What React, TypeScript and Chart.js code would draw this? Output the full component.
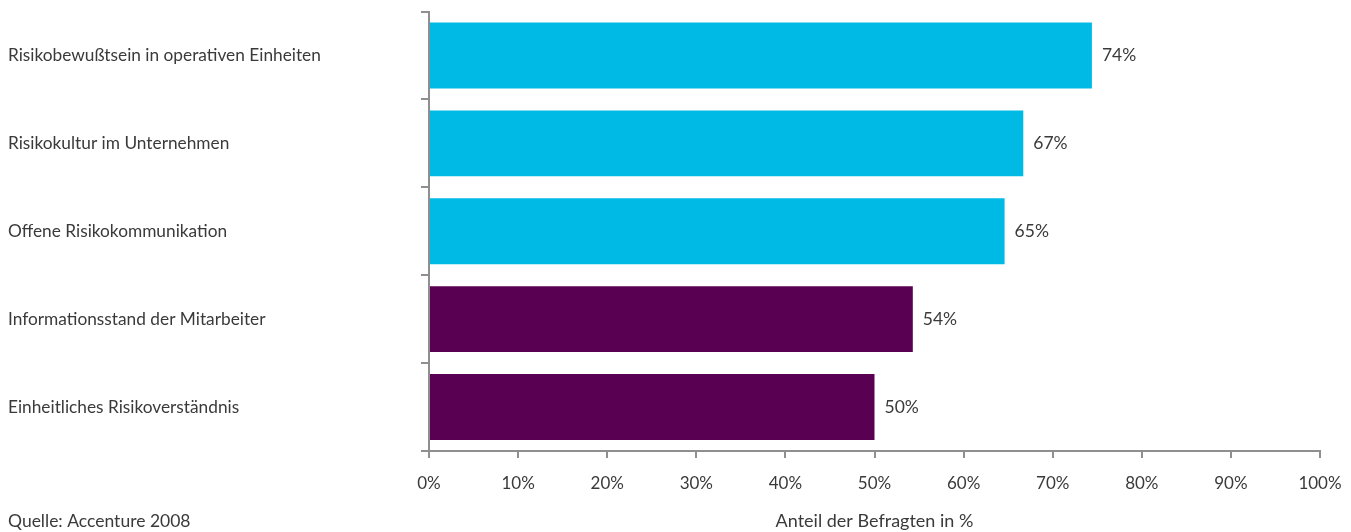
import React, { useEffect, useRef } from "react";
import { Chart, registerables } from "chart.js";

Chart.register(...registerables);

const categories = [
  "Risikobewußtsein in operativen Einheiten",
  "Risikokultur im Unternehmen",
  "Offene Risikokommunikation",
  "Informationsstand der Mitarbeiter",
  "Einheitliches Risikoverständnis",
];
const values = [74.4, 66.7, 64.6, 54.3, 50.0];
const valueLabels = ["74%", "67%", "65%", "54%", "50%"];
const barColors = ["#00BAE6", "#00BAE6", "#00BAE6", "#5A0052", "#5A0052"];
const xTickSuffix = "%";
const axisTitle = "Anteil der Befragten in %";
const sourceText = "Quelle: Accenture 2008";

const FONT = "Lato";
const TEXT = "#3a3a3a";
const AXIS = "#8f8f8f";

export default function App() {
  const ref = useRef<HTMLCanvasElement | null>(null);

  useEffect(() => {
    const canvas = ref.current;
    if (!canvas) return;

    const labelPlugin = {
      id: "valueLabels",
      afterDatasetsDraw(chart: any) {
        const ctx = chart.ctx;
        const meta = chart.getDatasetMeta(0);
        ctx.save();
        ctx.font = `17.5px ${FONT}`;
        ctx.fillStyle = TEXT;
        ctx.textAlign = "left";
        ctx.textBaseline = "middle";
        meta.data.forEach((el: any, i: number) => {
          ctx.fillText(valueLabels[i], el.x + 10, el.y);
        });
        ctx.restore();
      },
      afterDraw(chart: any) {
        const ctx = chart.ctx;
        ctx.save();
        ctx.font = `17.5px ${FONT}`;
        ctx.fillStyle = TEXT;
        ctx.textAlign = "left";
        ctx.textBaseline = "middle";
        ctx.fillText(sourceText, 8, 521);
        ctx.restore();
      },
    };

    const chart = new Chart(canvas, {
      type: "bar",
      data: {
        labels: categories,
        datasets: [
          {
            data: values,
            backgroundColor: barColors,
            borderWidth: 0,
            barPercentage: 0.75,
            categoryPercentage: 1,
          },
        ],
      },
      options: {
        indexAxis: "y",
        responsive: false,
        animation: false,
        layout: { padding: { left: 8, top: 11.5, right: 31, bottom: 0 } },
        plugins: {
          legend: { display: false },
          tooltip: { enabled: false },
        },
        scales: {
          x: {
            min: 0,
            max: 100,
            ticks: {
              stepSize: 10,
              padding: 15,
              color: TEXT,
              font: { family: FONT, size: 17 },
              callback: (v: any) => `${v}${xTickSuffix}`,
            },
            grid: {
              drawOnChartArea: false,
              tickLength: 7,
              color: AXIS,
              lineWidth: 2,
            },
            border: { display: true, color: AXIS, width: 2 },
            title: {
              display: true,
              text: axisTitle,
              color: TEXT,
              font: { family: FONT, size: 18 },
              padding: { top: 0, bottom: 0 },
            },
            afterFit: (scale: any) => {
              scale.height = 81;
              scale.paddingLeft = 0;
              scale.paddingRight = 0;
            },
          },
          y: {
            ticks: {
              crossAlign: "far",
              color: TEXT,
              font: { family: FONT, size: 17.3 },
            },
            grid: {
              offset: true,
              drawOnChartArea: false,
              tickLength: 8,
              color: AXIS,
              lineWidth: 2,
            },
            border: { display: true, color: AXIS, width: 2 },
            afterFit: (scale: any) => {
              scale.width = 421;
              scale.paddingTop = 0;
              scale.paddingBottom = 0;
            },
          },
        },
      },
      plugins: [labelPlugin],
    });

    return () => chart.destroy();
  }, []);

  return (
    <canvas
      ref={ref}
      width={1351}
      height={532}
      style={{ position: "absolute", left: 0, top: 0, width: 1351, height: 532 }}
    />
  );
}
